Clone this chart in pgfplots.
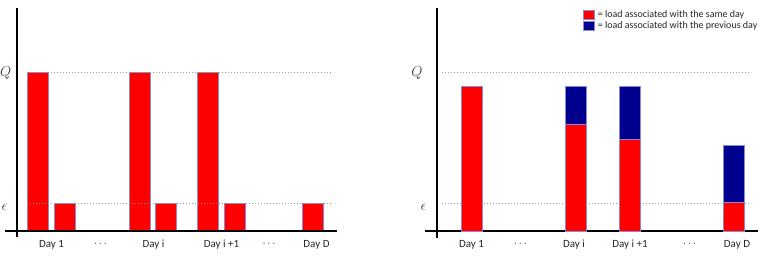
\documentclass[border=0pt]{standalone}
\usepackage{pgfplots}
\pgfplotsset{compat=1.18}
\usepackage{fontspec}
\setmainfont{Carlito}
\definecolor{barred}{HTML}{FF0000}
\definecolor{barblue}{HTML}{00008E}
\definecolor{baredge}{HTML}{8A8AD0}
\definecolor{dotgray}{HTML}{9A9A9A}
\tikzset{dayfont/.style={font=\fontsize{11}{13}\selectfont, text=black!85}}
\begin{document}
\begin{tikzpicture}
\useasboundingbox (0,0) rectangle (765pt,258pt);
\pgfplotsset{
  panel/.style={x=1pt, y=1pt, hide axis, clip=false, ymin=-27, ymax=231,
    anchor=south west},
}
% ---------------- left panel ----------------
\begin{axis}[panel, at={(0pt,0pt)}, xmin=-17, xmax=363]
  \addplot[ybar, bar width=21pt, bar shift=0pt, fill=barred, draw=baredge, line width=0.6pt]
    coordinates {(20.5,159) (47.5,28) (122.5,159) (149,28) (191,159) (217.5,28) (296,28)};
  \draw[dotgray, line width=0.8pt, dash pattern=on 1pt off 2pt] (axis cs:10,159) -- (axis cs:314,159);
  \draw[dotgray, line width=0.8pt, dash pattern=on 1pt off 2pt] (axis cs:10,28) -- (axis cs:314,28);
  \draw[black, line width=2pt] (axis cs:0,-6) -- (axis cs:0,223);
  \draw[black, line width=2pt] (axis cs:-12,0) -- (axis cs:320,0);
  \node[text=black!75, font=\fontsize{15}{15}\selectfont, anchor=west, inner sep=0pt] at (axis cs:-17,158) {$Q$};
  \node[text=black!75, font=\fontsize{14}{14}\selectfont] at (axis cs:-12.5,23.5) {$\epsilon$};
  \node[dayfont] at (axis cs:34.5,-14) {Day 1};
  \node[dayfont] at (axis cs:83.5,-13) {$\cdots$};
  \node[dayfont] at (axis cs:136.5,-14) {Day i};
  \node[dayfont] at (axis cs:204.5,-14) {Day i +1};
  \node[dayfont] at (axis cs:252,-13) {$\cdots$};
  \node[dayfont] at (axis cs:299.5,-14) {Day D};
\end{axis}
% ---------------- right panel ----------------
\begin{axis}[panel, at={(385pt,0pt)}, xmin=-52, xmax=328,
  ybar stacked, bar width=21pt,
  legend style={at={(axis cs:146,222)}, anchor=north west, draw=none, fill=none,
    font=\fontsize{10}{12}\selectfont, row sep=1pt, inner sep=0pt,
    nodes={inner sep=1pt, text=black!85},
    /tikz/every odd column/.append style={column sep=2pt}},
  legend cell align=left,
  legend image code/.code={\draw[#1] (0pt,-4.5pt) rectangle (11pt,4.5pt);},
]
  \addplot[fill=barred, draw=baredge, line width=0.6pt]
    coordinates {(34.5,145) (138.5,107) (192.5,92) (296.5,29)};
  \addlegendentry{= load associated with the same day}
  \addplot[fill=barblue, draw=baredge, line width=0.6pt]
    coordinates {(34.5,0) (138.5,38) (192.5,53) (296.5,57)};
  \addlegendentry{= load associated with the previous day}
  \draw[dotgray, line width=0.8pt, dash pattern=on 1pt off 2pt] (axis cs:5,159) -- (axis cs:314,159);
  \draw[dotgray, line width=0.8pt, dash pattern=on 1pt off 2pt] (axis cs:5,28) -- (axis cs:314,28);
  \draw[black, line width=2pt] (axis cs:0,-7) -- (axis cs:0,223);
  \draw[black, line width=2pt] (axis cs:-12,0) -- (axis cs:321,0);
  \node[text=black!75, font=\fontsize{15}{15}\selectfont] at (axis cs:-20,158) {$Q$};
  \node[text=black!75, font=\fontsize{14}{14}\selectfont] at (axis cs:-13.5,23.5) {$\epsilon$};
  \node[dayfont] at (axis cs:34.5,-14) {Day 1};
  \node[dayfont] at (axis cs:83.5,-13) {$\cdots$};
  \node[dayfont] at (axis cs:137,-14) {Day i};
  \node[dayfont] at (axis cs:193,-14) {Day i +1};
  \node[dayfont] at (axis cs:252.5,-13) {$\cdots$};
  \node[dayfont] at (axis cs:300,-14) {Day D};
\end{axis}
\end{tikzpicture}
\end{document}
